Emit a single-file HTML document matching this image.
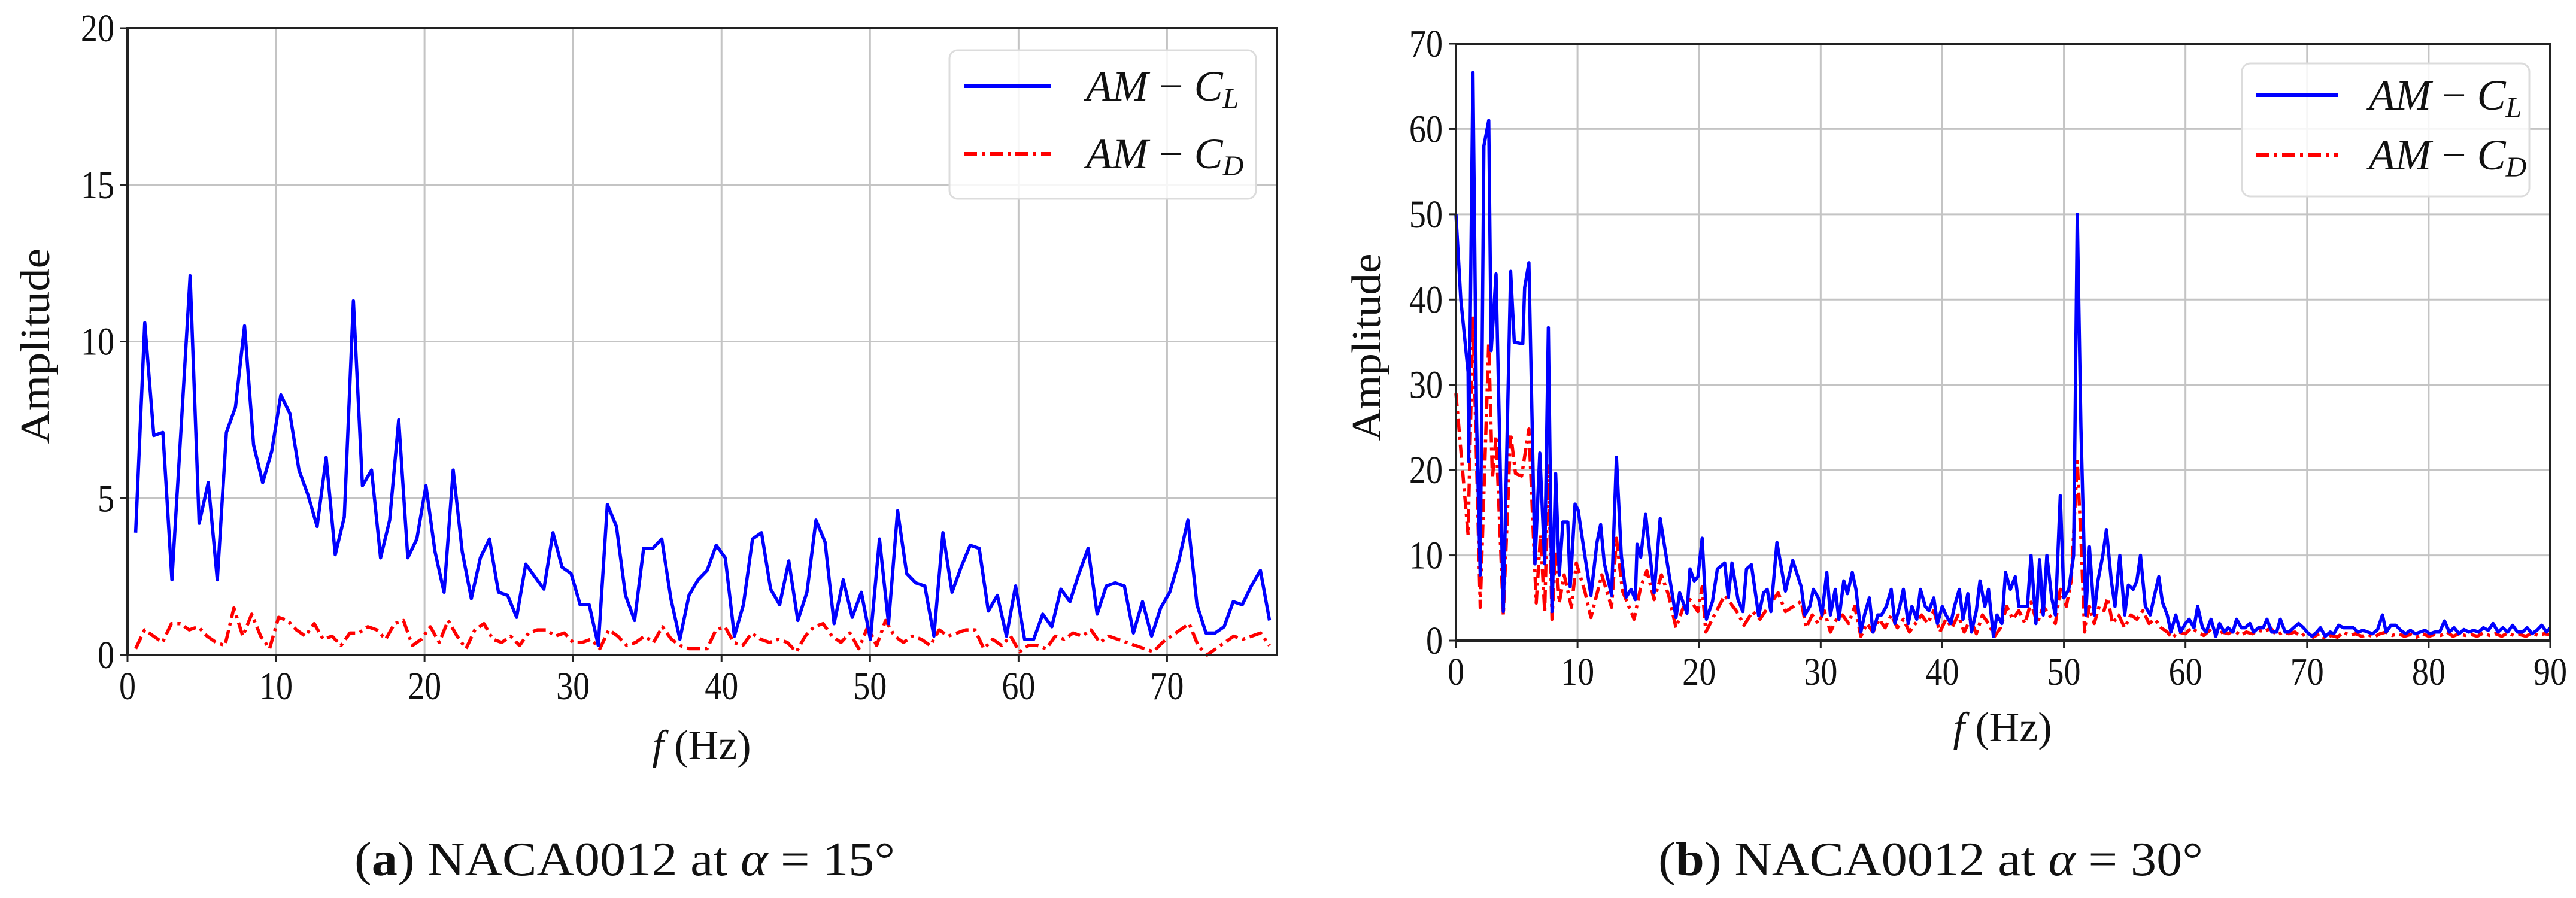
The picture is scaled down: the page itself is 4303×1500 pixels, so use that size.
<!DOCTYPE html>
<html><head><meta charset="utf-8"><style>
html,body{margin:0;padding:0;background:#fff;}
svg{display:block;}
text{font-family:"Liberation Serif",serif;fill:#111;}
</style></head><body>
<svg id="fig" width="4303" height="1500" viewBox="0 0 4303 1500" xmlns="http://www.w3.org/2000/svg"></svg>
<script>
// ---- Panel (a) data ----
const freqA_start = 0.55, freqA_end = 76.9;
const clA = [3.9,10.6,7.0,7.1,2.4,7.2,12.1,4.2,5.5,2.4,7.1,7.9,10.5,6.7,5.5,6.5,8.3,7.7,5.9,5.1,4.1,6.3,3.2,4.4,11.3,5.4,5.9,3.1,4.3,7.5,3.1,3.7,5.4,3.3,2.0,5.9,3.3,1.8,3.1,3.7,2.0,1.9,1.2,2.9,2.5,2.1,3.9,2.8,2.6,1.6,1.6,0.3,4.8,4.1,1.9,1.1,3.4,3.4,3.7,1.8,0.5,1.9,2.4,2.7,3.5,3.1,0.6,1.6,3.7,3.9,2.1,1.6,3.0,1.1,2.0,4.3,3.6,1.0,2.4,1.2,2.0,0.5,3.7,1.0,4.6,2.6,2.3,2.2,0.6,3.9,2.0,2.8,3.5,3.4,1.4,1.9,0.6,2.2,0.5,0.5,1.3,0.9,2.1,1.7,2.6,3.4,1.3,2.2,2.3,2.2,0.7,1.7,0.6,1.5,2.0,3.0,4.3,1.6,0.7,0.7,0.9,1.7,1.6,2.2,2.7,1.1];
const cdA = [0.2,0.8,0.6,0.4,1.0,1.0,0.8,0.9,0.6,0.4,0.3,1.5,0.6,1.3,0.6,0.2,1.2,1.1,0.8,0.6,1.0,0.5,0.6,0.3,0.7,0.7,0.9,0.8,0.5,1.0,1.1,0.3,0.5,0.9,0.4,1.1,0.6,0.2,0.8,1.0,0.5,0.4,0.6,0.3,0.7,0.8,0.8,0.6,0.7,0.4,0.4,0.5,0.2,0.8,0.6,0.3,0.4,0.6,0.4,0.9,0.5,0.3,0.2,0.2,0.2,0.8,0.9,0.4,0.3,0.7,0.5,0.4,0.5,0.4,0.1,0.6,0.9,1.0,0.6,0.4,0.7,0.2,0.9,0.3,1.1,0.6,0.4,0.6,0.5,0.3,0.8,0.6,0.7,0.8,0.8,0.2,0.5,0.3,0.6,0.1,0.3,0.3,0.2,0.6,0.5,0.7,0.6,0.8,0.4,0.6,0.5,0.4,0.3,0.2,0.1,0.4,0.6,0.8,1.0,0.3,0.0,0.2,0.4,0.6,0.5,0.6,0.7,0.3];
const xTicksA = [0,10,20,30,40,50,60,70];
const yTicksA = [0,5,10,15,20];

// ---- Panel (b) data ----
const freqB_CL = [0,0.4,1.0,1.05,1.4,1.7,2.0,2.3,2.7,2.9,3.3,3.9,4.5,4.8,5.5,5.65,6.0,6.5,6.9,7.3,7.6,7.9,8.2,8.5,8.8,9.2,9.4,9.8,10.05,10.6,11.1,11.6,11.9,12.2,12.8,13.2,13.6,14.0,14.4,14.75,14.9,15.2,15.6,16.3,16.8,17.3,18.1,18.4,19.0,19.25,19.6,19.9,20.25,20.6,21.1,21.5,22.1,22.4,22.7,23.2,23.6,23.9,24.3,24.9,25.3,25.6,25.9,26.4,27.1,27.7,28.4,28.7,29.1,29.4,29.8,30.1,30.5,30.8,31.2,31.5,31.9,32.2,32.6,32.9,33.3,33.6,34.0,34.3,34.7,35.0,35.4,35.8,36.1,36.5,36.8,37.2,37.5,37.9,38.2,38.6,38.9,39.3,39.6,40.0,40.3,40.7,41.0,41.4,41.7,42.1,42.4,42.8,43.1,43.5,43.8,44.2,44.5,44.9,45.2,45.6,46.0,46.3,46.7,47.0,47.3,47.7,48.0,48.3,48.6,49.0,49.3,49.7,50.0,50.4,50.8,51.1,51.4,51.8,52.1,52.5,52.8,53.2,53.5,53.9,54.2,54.6,55.0,55.3,55.7,56.0,56.3,56.7,57.1,57.4,57.8,58.1,58.5,58.8,59.2,59.6,60.0,60.3,60.7,61.0,61.4,61.7,62.1,62.5,62.8,63.2,63.5,63.9,64.2,64.6,64.9,65.3,65.6,66.0,66.4,66.7,67.1,67.5,67.8,68.2,68.5,68.9,69.3,69.7,70.0,70.4,70.8,71.1,71.5,71.9,72.2,72.6,73.0,73.4,73.8,74.2,74.6,75.0,75.4,75.8,76.2,76.5,76.9,77.3,77.7,78.1,78.5,78.9,79.3,79.7,80.1,80.5,80.9,81.3,81.7,82.1,82.5,82.9,83.3,83.7,84.1,84.5,84.9,85.3,85.7,86.1,86.5,86.9,87.3,87.7,88.1,88.5,88.9,89.3,89.7,90];
const clB = [50,40,31.5,21,66.6,25.7,7.7,58,61,34,43,3.4,43.3,35,34.8,41.4,44.3,9,22,9,36.7,3.4,19.6,7.7,13.9,13.9,6.3,16,15.3,10,5.3,11.5,13.6,9.1,5.3,21.5,10,5.1,6,4.8,11.3,9.8,14.8,5.6,14.3,9.8,2.7,5.6,3.2,8.4,7,7.5,12,2.5,4.6,8.4,9.1,5.1,9.1,4.8,3.4,8.4,8.9,2.9,5.6,6,3.4,11.5,5.8,9.4,6.3,3,4,6,5,3,8,3,6,2.5,7,5.5,8,6,1,3,5,1,3,3,4,6,2,4,6,2,4,2.5,6,4,3.5,5,2,4,3,2,4,6,2.5,5.5,1,3.5,7,4,6,0.5,3,2,8,6,7.5,4,4,4,10,2,9.5,3,10,5,3,17,5,6,10,50,25,3,11,3,7,10,13,7,4,10,3,6.5,6,7,10,4,3,5,7.5,4.5,3,1,3,1,2,2.5,1.5,4,1.5,1,2.5,0.5,2,1,1.5,1,2.5,1.5,1.5,2,1,1.5,1.5,2.5,1,1,2.5,1,1,1.5,2,1.5,1,0.5,1,1.5,0.5,1,0.8,1.8,1.5,1.5,1.5,1.0,1.2,1.0,0.8,1.3,3.0,1.0,1.8,1.8,1.2,0.8,1.2,0.8,1.0,1.2,0.8,1.0,1.0,2.3,1.0,1.5,0.8,1.3,1.0,1.2,1.0,1.5,1.2,2.0,1.0,1.5,1.0,1.8,1.0,1.0,1.5,0.8,1.2,1.8,1.0,1.5];
const freqB_CD = [0,1.0,1.4,2.0,2.7,3.0,3.3,3.9,4.5,4.9,5.4,6.0,6.6,6.95,7.3,7.6,7.9,8.2,8.5,8.9,9.5,9.9,10.6,11.1,12.0,12.8,13.2,13.7,14.65,15.2,15.7,16.3,16.9,17.5,18.1,18.7,19.25,19.9,20.25,20.55,21.4,22.1,23.1,23.7,24.4,25.0,26.5,27.1,28.4,28.8,29.3,29.8,30.3,30.8,31.3,31.8,32.3,32.8,33.3,33.8,34.3,34.8,35.3,35.8,36.3,36.8,37.3,37.8,38.3,38.8,39.3,39.8,40.3,40.8,41.3,41.8,42.3,42.8,43.3,43.8,44.3,44.8,45.3,45.8,46.3,46.8,47.3,47.8,48.3,48.8,49.3,49.7,50.2,50.6,51.1,51.4,51.7,52.1,52.5,52.9,53.3,53.6,54.0,54.5,55.0,55.5,56.0,56.5,57.0,57.5,58.0,58.5,58.9,59.4,60.0,60.5,61.0,61.5,62.0,62.5,63.0,63.5,64.0,64.5,65.0,65.5,66.0,66.5,67.0,67.5,68.0,68.5,69.0,69.5,70.0,70.5,71.0,71.5,72.0,72.5,73.0,73.5,74.0,74.5,75.0,75.5,76.0,76.5,77.0,77.5,78.0,78.5,79.0,79.5,80.0,80.5,81.0,81.5,82.0,82.5,83.0,83.5,84.0,84.5,85.0,85.5,86.0,86.5,87.0,87.5,88.0,88.5,89.0,89.5,90];
const cdB = [29,12.4,38,3.9,35,19,24,3,24.3,19.6,19.3,24.8,4.4,12.4,3.4,20.5,2.5,10.5,4.4,7.7,3.9,9.1,5.8,2.7,7.7,3.9,12,5.8,2.5,6.3,8.2,4.8,7.7,5.3,1.5,3.9,4.8,3.4,6.3,1,3.4,5.3,3.4,1.8,3.4,2.5,5.6,3.4,4.6,1.5,3,2,3.5,1,2.5,3,2,4,0.5,2,1,2.5,1.5,3,1.5,2.5,1,2,3,2,3.5,1,2.5,1.5,3,1,2.5,0.8,3,2,0.5,1.5,4,2.5,3.5,2,4.5,2,4,3,2,6,4,7,21,12,1,4,2,4,3.5,5,2,3,1.5,3,2.5,3.5,2,2.5,1.5,1,0.3,1,0.8,1.5,1,0.6,1.2,0.5,1,0.8,1.2,0.6,1,0.8,1.2,1.0,1.5,0.6,1,0.8,1,0.5,1,0.4,0.8,0.2,0.6,0.4,1,0.6,0.8,0.5,0.7,0.4,0.8,1,0.6,0.8,0.5,0.7,0.4,0.8,0.5,0.7,0.6,1,0.5,0.8,0.6,0.7,0.5,0.9,0.6,0.8,0.5,0.9,0.6,0.7,0.5,0.9,0.6,0.8,0.7];
const xTicksB = [0,10,20,30,40,50,60,70,80,90];
const yTicksB = [0,10,20,30,40,50,60,70];

const NS = "http://www.w3.org/2000/svg";
const svg = document.getElementById('fig');
function mk(tag, attrs, parent){
  const e = document.createElementNS(NS, tag);
  for (const k in attrs) e.setAttribute(k, attrs[k]);
  (parent||svg).appendChild(e);
  return e;
}

function panel(cfg){
  const g = mk('g', {});
  
  
  const xs = v => cfg.x0 + (v - cfg.xmin) / (cfg.xmax - cfg.xmin) * (cfg.x1 - cfg.x0);
  const ys = v => cfg.y0 - (v - cfg.ymin) / (cfg.ymax - cfg.ymin) * (cfg.y0 - cfg.y1);
  cfg.xticks.forEach(t => {
    const l = mk('line', {x1: xs(t), x2: xs(t), y1: cfg.y1, y2: cfg.y0, stroke: '#c4c4c4', 'stroke-width': 3}, g);
    
    
  });
  cfg.yticks.forEach(t => {
    const l = mk('line', {x1: cfg.x0, x2: cfg.x1, y1: ys(t), y2: ys(t), stroke: '#c4c4c4', 'stroke-width': 3}, g);
    
    
  });
  function series(fx, vals, color, dash, nm){
    let d = '';
    vals.forEach((v, i) => { d += (i ? 'L' : 'M') + xs(fx(i)).toFixed(1) + ' ' + ys(v).toFixed(1); });
    const p = mk('path', {d: d, fill: 'none', stroke: color, 'stroke-width': 5.5, 'stroke-linejoin': 'round'}, g);
    if (dash) p.setAttribute('stroke-dasharray', dash);
    
    
  }
  series(cfg.cdX, cfg.cd, '#ff0000', '22,8,5,8', 'am-cd-line');
  series(cfg.clX, cfg.cl, '#0000ff', null, 'am-cl-line');
  const fr = mk('rect', {x: cfg.x0, y: cfg.y1, width: cfg.x1 - cfg.x0, height: cfg.y0 - cfg.y1, fill: 'none', stroke: '#222', 'stroke-width': 4}, g);
  
  
  cfg.xticks.forEach(t => {
    mk('line', {x1: xs(t), x2: xs(t), y1: cfg.y0, y2: cfg.y0 + 12, stroke: '#222', 'stroke-width': 3}, g);
    const tx = mk('text', {'text-anchor': 'middle', 'font-size': 66, transform: 'translate(' + xs(t) + ',' + (cfg.y0 + 74) + ') scale(0.85,1)'}, g);
    tx.textContent = t;
    
    
  });
  cfg.yticks.forEach(t => {
    mk('line', {x1: cfg.x0 - 12, x2: cfg.x0, y1: ys(t), y2: ys(t), stroke: '#222', 'stroke-width': 3}, g);
    const tx = mk('text', {'text-anchor': 'end', 'font-size': 66, transform: 'translate(' + (cfg.x0 - 22) + ',' + (ys(t) + 22) + ') scale(0.85,1)'}, g);
    tx.textContent = t;
    
    
  });
  const yt = mk('text', {'text-anchor': 'middle', 'font-size': 70, textLength: cfg.ylen, lengthAdjust: 'spacingAndGlyphs', transform: 'translate(' + cfg.ylx + ',' + cfg.yly + ') rotate(-90)'}, g);
  yt.textContent = 'Amplitude';
  
  
  const xt = mk('text', {'text-anchor': 'middle', 'font-size': 70, x: cfg.xlx, y: cfg.xly}, g);
  const fi = mk('tspan', {'font-style': 'italic'}, xt); fi.textContent = 'f';
  const hz = mk('tspan', {}, xt); hz.textContent = ' (Hz)';
  
  
  const lg = mk('g', {}, g);
  
  
  mk('rect', {x: cfg.lx, y: cfg.ly, width: cfg.lw, height: cfg.lh, rx: 14, fill: 'rgba(255,255,255,0.85)', stroke: '#dcdcdc', 'stroke-width': 3}, lg);
  const entries = [['#0000ff', null, 'L', 'legend-entry-cl'], ['#ff0000', '22,8,5,8', 'D', 'legend-entry-cd']];
  entries.forEach((en, i) => {
    const eg = mk('g', {}, lg);
    
    
    const yy = cfg.ly + cfg.lrow0 + i * cfg.lrow;
    const ln = mk('line', {x1: cfg.lx + 24, x2: cfg.lx + 24 + cfg.lline, y1: yy, y2: yy, stroke: en[0], 'stroke-width': 6}, eg);
    if (en[1]) ln.setAttribute('stroke-dasharray', en[1]);
    const t = mk('text', {x: cfg.lx + cfg.ltx, y: yy + 24, 'font-size': 72, 'font-style': 'italic'}, eg);
    const a = mk('tspan', {}, t); a.textContent = 'AM';
    const m = mk('tspan', {'font-style': 'normal'}, t); m.textContent = ' \u2212 ';
    const c = mk('tspan', {}, t); c.textContent = 'C';
    const s = mk('tspan', {'font-size': 48, dy: 12}, t); s.textContent = en[2];
  });
  const cp = mk('text', {x: cfg.cx, y: 1462, 'font-size': 80, textLength: cfg.clen, lengthAdjust: 'spacingAndGlyphs'}, g);
  const p1 = mk('tspan', {}, cp); p1.textContent = '(';
  const p2 = mk('tspan', {'font-weight': 'bold'}, cp); p2.textContent = cfg.letter;
  const p3 = mk('tspan', {}, cp); p3.textContent = ') NACA0012 at ';
  const p4 = mk('tspan', {'font-style': 'italic'}, cp); p4.textContent = '\u03b1';
  const p5 = mk('tspan', {}, cp); p5.textContent = ' = ' + cfg.angle + '\u00b0';
  
  
}

panel({name: 'panel-a-chart', x0: 213, x1: 2133, y0: 1094, y1: 47, xmin: 0, xmax: 77.4, ymin: 0, ymax: 20,
  xticks: xTicksA, yticks: yTicksA,
  cl: clA, clX: i => freqA_start + i * (freqA_end - freqA_start) / (clA.length - 1),
  cd: cdA, cdX: i => freqA_start + i * (freqA_end - freqA_start) / (cdA.length - 1),
  ylx: 82, yly: 578, ylen: 327, xlx: 1172, xly: 1268,
  lx: 1586, ly: 84, lw: 512, lh: 248, lrow0: 60, lrow: 113, lline: 146, ltx: 228,
  cx: 592, clen: 903, letter: 'a', angle: 15});

panel({name: 'panel-b-chart', x0: 2432, x1: 4260, y0: 1070, y1: 73, xmin: 0, xmax: 90, ymin: 0, ymax: 70,
  xticks: xTicksB, yticks: yTicksB,
  cl: clB, clX: i => freqB_CL[i],
  cd: cdB, cdX: i => freqB_CD[i],
  ylx: 2306, yly: 580, ylen: 313, xlx: 3345, xly: 1238,
  lx: 3745, ly: 106, lw: 480, lh: 222, lrow0: 53, lrow: 100, lline: 136, ltx: 212,
  cx: 2770, clen: 910, letter: 'b', angle: 30});
</script>
</body></html>
